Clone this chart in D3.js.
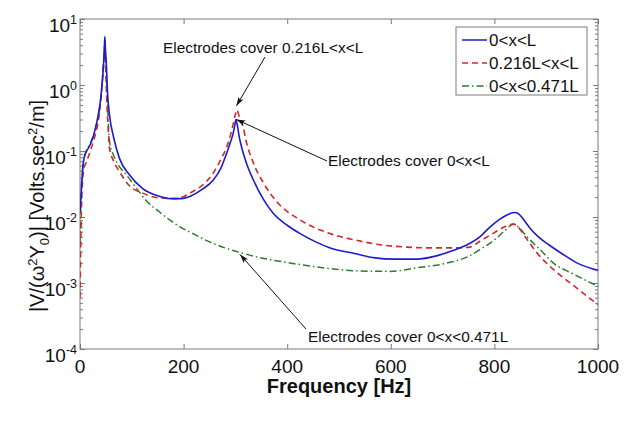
<!DOCTYPE html>
<html><head><meta charset="utf-8">
<script src="https://cdn.jsdelivr.net/npm/d3@7"></script>
<style>
body{margin:0;background:#fff;}
svg{display:block;font-family:"Liberation Sans",Arial,sans-serif;}
</style></head>
<body><svg id="c" width="626" height="423"></svg>
<script>
// ---- data ----
const seriesNames = ["0<x<L", "0.216L<x<L", "0<x<0.471L"];
const xTicks = [0, 200, 400, 600, 800, 1000];
const yTickExps = [-4, -3, -2, -1, 0, 1];

const fullFreq = [0,2,5,8,13,18,25,31,36,40,43,45,47,48,49,51,53,57,65,76,95,121,150,175,195,215,235,257,272,283,291,296,299,301,304,307,312,320,335,355,373,400,425,455,483,530,570,605,650,690,720,753,772,792,810,825,835,840,848,858,870,885,905,930,960,1000];
const fullVal  = [0.012,0.021,0.05,0.08,0.1,0.117,0.16,0.245,0.38,0.63,1.1,1.8,3.5,5.4,3.5,2.0,0.8,0.35,0.16,0.078,0.044,0.027,0.021,0.019,0.019,0.021,0.026,0.036,0.055,0.092,0.14,0.19,0.25,0.3,0.24,0.17,0.114,0.07,0.036,0.018,0.0114,0.0075,0.0056,0.0042,0.0034,0.0028,0.0024,0.0023,0.0023,0.0026,0.0031,0.004,0.005,0.0071,0.0092,0.0108,0.0116,0.0117,0.0110,0.0088,0.0066,0.0050,0.0038,0.0028,0.0020,0.00155];

const partFreq = [0,2,5,8,12,20,28,34,38,42,45,47,48,49,50,51.5,54,57,65,76,95,121,153,185,220,240,257,272,283,291,296,300,303,306,310,315,320,335,355,380,425,483,530,579,630,676,720,753,772,800,820,837,846,858,880,914,950,1000];
const partVal  = [0.0006,0.0068,0.035,0.055,0.067,0.1,0.16,0.25,0.4,0.9,1.8,3.0,4.3,2.8,1.5,0.63,0.25,0.11,0.07,0.049,0.03,0.023,0.0195,0.019,0.025,0.032,0.046,0.075,0.114,0.18,0.26,0.36,0.42,0.36,0.29,0.23,0.15,0.065,0.032,0.017,0.009,0.0056,0.0045,0.0038,0.0035,0.0034,0.0034,0.0035,0.0043,0.0058,0.0071,0.0078,0.0070,0.0052,0.0030,0.0016,0.00095,0.00047];

const halfFreq = [0,2,5,10,20,30,36,40,43,45,47,48,49,51,53,57,65,76,89,111,130,153,175,193,220,250,280,309,350,390,425,483,540,598,650,708,753,772,800,820,837,846,862,890,914,950,1000];
const halfVal  = [0.004,0.02,0.055,0.09,0.13,0.22,0.35,0.6,1.1,1.9,3.3,4.8,3.0,1.4,0.55,0.14,0.085,0.058,0.044,0.026,0.017,0.012,0.0088,0.0071,0.0055,0.0042,0.0034,0.0029,0.0024,0.0021,0.0019,0.00165,0.00152,0.0015,0.0017,0.002,0.0026,0.0032,0.0045,0.0062,0.0078,0.0071,0.0051,0.0031,0.002,0.0014,0.00089];

// ---- layout ----
const L = 80, R = 598, T = 19, B = 349;
const svg = d3.select("#c");
const x = d3.scaleLinear().domain([0, 1000]).range([L, R]);
const y = d3.scaleLog().domain([1e-4, 10]).range([B, T]);
const axisColor = "#7a7a7a";

svg.append("defs").append("clipPath").attr("id","clip")
  .append("rect").attr("x",L).attr("y",T).attr("width",R-L).attr("height",B-T);
const m = svg.select("defs").append("marker").attr("id","arr")
  .attr("viewBox","0 -4 10 8").attr("refX",10).attr("refY",0)
  .attr("markerWidth",10).attr("markerHeight",7).attr("markerUnits","userSpaceOnUse")
  .attr("orient","auto");
m.append("path").attr("d","M0,-3.2L10,0L0,3.2L2,0Z").attr("fill","#111");

// box
svg.append("rect").attr("x",L).attr("y",T).attr("width",R-L).attr("height",B-T)
  .attr("fill","none").attr("stroke",axisColor).attr("stroke-width",1);

// x axes (bottom & top), ticks inward
const xb = svg.append("g").attr("transform",`translate(0,${B})`)
  .call(d3.axisBottom(x).tickValues(xTicks).tickSize(-5).tickFormat(""));
const xt = svg.append("g").attr("transform",`translate(0,${T})`)
  .call(d3.axisTop(x).tickValues(xTicks).tickSize(-5).tickFormat(""));
[xb, xt].forEach(g => { g.select(".domain").remove(); g.selectAll("line").attr("stroke",axisColor); });

// y axes major/minor
const majors = yTickExps.map(e => Math.pow(10, e));
const minors = [];
for (let e = -4; e < 1; e++) for (let k = 2; k <= 9; k++) minors.push(k * Math.pow(10, e));
const yl = svg.append("g").attr("transform",`translate(${L},0)`)
  .call(d3.axisLeft(y).tickValues(majors).tickSize(-5).tickFormat(""));
const ylm = svg.append("g").attr("transform",`translate(${L},0)`)
  .call(d3.axisLeft(y).tickValues(minors).tickSize(-3).tickFormat(""));
const yr = svg.append("g").attr("transform",`translate(${R},0)`)
  .call(d3.axisRight(y).tickValues(majors).tickSize(-5).tickFormat(""));
const yrm = svg.append("g").attr("transform",`translate(${R},0)`)
  .call(d3.axisRight(y).tickValues(minors).tickSize(-3).tickFormat(""));
[yl, ylm, yr, yrm].forEach(g => { g.select(".domain").remove(); g.selectAll("line").attr("stroke",axisColor); });

// tick labels
svg.append("g").selectAll("text").data(xTicks).join("text")
  .attr("x", d => x(d)).attr("y", B + 24).attr("text-anchor","middle")
  .attr("font-size",19).attr("fill","#111").text(d => d);
const yLab = svg.append("g").selectAll("text").data(yTickExps).join("text")
  .attr("x", 77).attr("y", d => y(Math.pow(10, d)) + 13).attr("text-anchor","end")
  .attr("font-size",19).attr("fill","#111");
yLab.append("tspan").text("10");
yLab.append("tspan").attr("dy",-8).attr("font-size",12.5).text(d => d);

// axis titles
svg.append("text").attr("x",(L+R)/2).attr("y",393).attr("text-anchor","middle")
  .attr("font-size",20).attr("font-weight","bold").attr("fill","#111").text("Frequency [Hz]");
const yt = svg.append("text").attr("transform",`translate(44,${(T+B)/2 + 22}) rotate(-90)`)
  .attr("text-anchor","middle").attr("font-size",20).attr("fill","#111");
yt.append("tspan").text("|V/(ω");
yt.append("tspan").attr("dy",-7).attr("font-size",13).text("2");
yt.append("tspan").attr("dy",7).text("Y");
yt.append("tspan").attr("dy",5).attr("font-size",13).text("0");
yt.append("tspan").attr("dy",-5).text(")| [Volts.sec");
yt.append("tspan").attr("dy",-7).attr("font-size",13).text("2");
yt.append("tspan").attr("dy",7).text("/m]");

// curves
const styles = [
  {color:"#1c1ccf", dash:null, w:1.6},
  {color:"#cf2a2a", dash:"6,4", w:1.6},
  {color:"#2a7d2a", dash:"7,3,1.5,3", w:1.5}
];
const seriesData = [
  fullFreq.map((f,i)=>[f, fullVal[i]]),
  partFreq.map((f,i)=>[f, partVal[i]]),
  halfFreq.map((f,i)=>[f, halfVal[i]])
];
const line = d3.line().x(d => x(d[0])).y(d => y(d[1])).curve(d3.curveMonotoneX);
const gp = svg.append("g").attr("clip-path","url(#clip)");
[2,1,0].forEach(i => {
  gp.append("path").attr("d", line(seriesData[i])).attr("fill","none")
    .attr("stroke", styles[i].color).attr("stroke-width", styles[i].w)
    .attr("stroke-dasharray", styles[i].dash);
});

// legend
const lg = svg.append("g");
lg.append("rect").attr("x",456).attr("y",27).attr("width",131).attr("height",68)
  .attr("fill","#fff").attr("stroke",axisColor).attr("stroke-width",1);
seriesNames.forEach((n,i) => {
  const cy = 40 + i*23;
  lg.append("line").attr("x1",462).attr("x2",487).attr("y1",cy).attr("y2",cy)
    .attr("stroke",styles[i].color).attr("stroke-width",1.5).attr("stroke-dasharray",styles[i].dash);
  lg.append("text").attr("x",489).attr("y",cy+6).attr("font-size",17).attr("fill","#111").text(n);
});

// annotations (arrow tips anchored on the curves)
const notes = [
  {text:"Electrodes cover 0.216L<x<L", tx:163, ty:53, fx:265, fy:57, f:302, v:0.42, dy:-4},
  {text:"Electrodes cover 0<x<L", tx:328, ty:166, fx:327, fy:161, f:302, v:0.3, dy:0},
  {text:"Electrodes cover 0<x<0.471L", tx:308, ty:342, fx:306, fy:329, f:309, v:0.0029, dy:2}
];
notes.forEach(n => {
  svg.append("line").attr("x1",n.fx).attr("y1",n.fy).attr("x2",x(n.f)).attr("y2",y(n.v)+n.dy)
    .attr("stroke","#111").attr("stroke-width",1).attr("marker-end","url(#arr)");
  svg.append("text").attr("x",n.tx).attr("y",n.ty).attr("font-size",15.4).attr("fill","#111").text(n.text);
});
</script></body></html>
